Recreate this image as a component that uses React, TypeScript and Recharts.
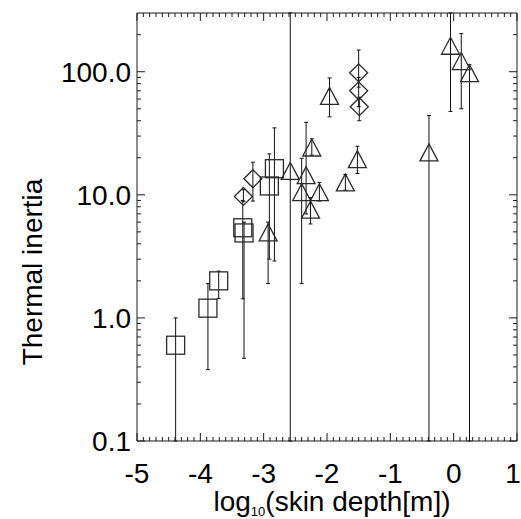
import React from 'react';
import { ScatterChart, Scatter, XAxis, YAxis, ErrorBar } from 'recharts';

// ---- Data ----
const squareX = [-4.39, -3.88, -3.71, -3.33, -3.31, -2.91, -2.83];
const squareY = [0.6, 1.2, 2.0, 5.4, 4.9, 11.8, 16.3];
const squareLo = [0.1, 0.38, 1.44, 1.43, 0.47, 3.0, 2.9];
const squareHi = [1.0, 1.9, 2.4, 9.0, 6.0, 21.5, 35];

const diamondX = [-3.32, -3.17, -1.5, -1.5, -1.49];
const diamondY = [9.7, 13.5, 98, 70, 52];
const diamondLo = [8.8, 8.9, 75, 52, 40];
const diamondHi = [11, 18.4, 150, 90, 62];

const triX = [-2.93, -2.58, -2.4, -2.33, -2.24, -2.26, -2.12, -1.96, -1.71, -1.52, -0.39, -0.05, 0.12, 0.25];
const triY = [4.9, 15.5, 10.4, 14.3, 24, 7.5, 10.4, 63, 12.5, 19.3, 21.9, 161, 121, 96.4];
const triLo = [1.9, 0.1, 1.9, 7.0, 21, 5.8, 8.9, 43, 10.9, 14.9, 0.1, 47.6, 50, 0.1];
const triHi = [6.0, 300, 19.8, 38.8, 28.5, 9.5, 12.6, 89, 14.6, 24.8, 44, 300, 204, 114];

const xMajor = [-5, -4, -3, -2, -1, 0, 1];
const yMajor = [0.1, 1, 10, 100];
const yMinor = [0.2, 0.3, 0.4, 0.5, 0.6, 0.7, 0.8, 0.9, 2, 3, 4, 5, 6, 7, 8, 9, 20, 30, 40, 50, 60, 70, 80, 90, 200];

const xMinor: number[] = [];
for (let i = -49; i <= 9; i++) {
  if (i % 10 !== 0) xMinor.push(i / 10);
}
const xTicks = [...xMajor, ...xMinor].sort((a, b) => a - b);
const yTicks = [...yMajor, ...yMinor].sort((a, b) => a - b);

const build = (xs: number[], ys: number[], lo: number[], hi: number[]) =>
  xs.map((x, i) => ({ x, y: ys[i], err: [ys[i] - lo[i], hi[i] - ys[i]] }));

const squares = build(squareX, squareY, squareLo, squareHi);
const diamonds = build(diamondX, diamondY, diamondLo, diamondHi);
const triangles = build(triX, triY, triLo, triHi);

const FONT = '"Liberation Sans", Arial, Helvetica, sans-serif';
const INK = '#1a1a1a';
const FS = 28;
const CHART_W = 521;

const isXMajor = (v: number) => xMajor.includes(v);
const isYMajor = (v: number) => yMajor.includes(v);

const BottomTick = (p: any) => {
  const { x, y, payload } = p;
  const major = isXMajor(payload.value);
  const label = String(payload.value);
  const halfW = label.length * FS * 0.28;
  const tx = Math.min(x, CHART_W - halfW);
  return (
    <g>
      <line x1={x} x2={x} y1={y} y2={y - (major ? 8 : 4)} stroke={INK} strokeWidth={1} />
      {major && (
        <text x={tx} y={y + 42} textAnchor="middle" fontFamily={FONT} fontSize={FS} fill="#000">
          {label}
        </text>
      )}
    </g>
  );
};

const TopTick = (p: any) => {
  const { x, y, payload } = p;
  const major = isXMajor(payload.value);
  return <line x1={x} x2={x} y1={y} y2={y + (major ? 8 : 4)} stroke={INK} strokeWidth={1} />;
};

const LeftTick = (p: any) => {
  const { x, y, payload } = p;
  const major = isYMajor(payload.value);
  return (
    <g>
      <line x1={x} x2={x + (major ? 8 : 4)} y1={y} y2={y} stroke={INK} strokeWidth={1} />
      {major && (
        <text x={x - 6} y={y} dy="0.36em" textAnchor="end" fontFamily={FONT} fontSize={FS} fill="#000">
          {payload.value.toFixed(1)}
        </text>
      )}
    </g>
  );
};

const RightTick = (p: any) => {
  const { x, y, payload } = p;
  const major = isYMajor(payload.value);
  return <line x1={x} x2={x - (major ? 8 : 4)} y1={y} y2={y} stroke={INK} strokeWidth={1} />;
};

const SquareShape = (p: any) => {
  const { cx, cy } = p;
  if (cx == null || cy == null) return <g />;
  return <rect x={cx - 9} y={cy - 9} width={18} height={18} fill="none" stroke="#2a2a2a" strokeWidth={1.3} />;
};

const DiamondShape = (p: any) => {
  const { cx, cy } = p;
  if (cx == null || cy == null) return <g />;
  const pts = `${cx - 9},${cy} ${cx},${cy - 9} ${cx + 9},${cy} ${cx},${cy + 9}`;
  return <polygon points={pts} fill="none" stroke="#2a2a2a" strokeWidth={1.3} />;
};

const TriangleShape = (p: any) => {
  const { cx, cy } = p;
  if (cx == null || cy == null) return <g />;
  const pts = `${cx - 9},${cy + 8} ${cx},${cy - 9} ${cx + 9},${cy + 8}`;
  return <polygon points={pts} fill="none" stroke="#2a2a2a" strokeWidth={1.3} />;
};

const Empty = () => <g />;

export default function App() {
  return (
    <div style={{ position: 'absolute', left: 0, top: 0, width: 521, height: 519, background: '#fff' }}>
      <ScatterChart width={521} height={519} margin={{ top: 12, right: 3, bottom: 38, left: 77 }}>
        <XAxis
          xAxisId="bottom"
          dataKey="x"
          type="number"
          domain={[-5, 1]}
          allowDataOverflow
          ticks={xTicks}
          interval={0}
          height={40}
          orientation="bottom"
          tickSize={0}
          tickMargin={0}
          tick={<BottomTick />}
          axisLine={{ stroke: INK, strokeWidth: 1 }}
          tickLine={false}
        />
        <XAxis
          xAxisId="top"
          dataKey="x"
          type="number"
          domain={[-5, 1]}
          allowDataOverflow
          ticks={xTicks}
          interval={0}
          height={1}
          orientation="top"
          tickSize={0}
          tickMargin={0}
          tick={<TopTick />}
          axisLine={{ stroke: INK, strokeWidth: 1 }}
          tickLine={false}
        />
        <YAxis
          yAxisId="left"
          dataKey="y"
          type="number"
          scale="log"
          domain={[0.1, 300]}
          allowDataOverflow
          ticks={yTicks}
          interval={0}
          width={60}
          orientation="left"
          tickSize={0}
          tickMargin={0}
          tick={<LeftTick />}
          axisLine={{ stroke: INK, strokeWidth: 1 }}
          tickLine={false}
        />
        <YAxis
          yAxisId="right"
          dataKey="y"
          type="number"
          scale="log"
          domain={[0.1, 300]}
          allowDataOverflow
          ticks={yTicks}
          interval={0}
          width={1}
          orientation="right"
          tickSize={0}
          tickMargin={0}
          tick={<RightTick />}
          axisLine={{ stroke: INK, strokeWidth: 1 }}
          tickLine={false}
        />
        <Scatter data={squares} xAxisId="top" yAxisId="right" shape={<Empty />} isAnimationActive={false} />
        <Scatter data={squares} xAxisId="bottom" yAxisId="left" shape={<SquareShape />} isAnimationActive={false}>
          <ErrorBar dataKey="err" direction="y" width={2} stroke="#111" strokeWidth={1} />
        </Scatter>
        <Scatter data={diamonds} xAxisId="bottom" yAxisId="left" shape={<DiamondShape />} isAnimationActive={false}>
          <ErrorBar dataKey="err" direction="y" width={2} stroke="#111" strokeWidth={1} />
        </Scatter>
        <Scatter data={triangles} xAxisId="bottom" yAxisId="left" shape={<TriangleShape />} isAnimationActive={false}>
          <ErrorBar dataKey="err" direction="y" width={2} stroke="#111" strokeWidth={1} />
        </Scatter>
        <text
          x={42}
          y={272}
          transform="rotate(-90 42 272)"
          textAnchor="middle"
          fontFamily={FONT}
          fontSize={FS}
          fill="#000"
        >
          Thermal inertia
        </text>
        <text x={332} y={511} textAnchor="middle" fontFamily={FONT} fontSize={FS} fill="#000">
          log
          <tspan fontSize={13} dy={5}>10</tspan>
          <tspan dy={-5}>(skin depth[m])</tspan>
        </text>
      </ScatterChart>
    </div>
  );
}
